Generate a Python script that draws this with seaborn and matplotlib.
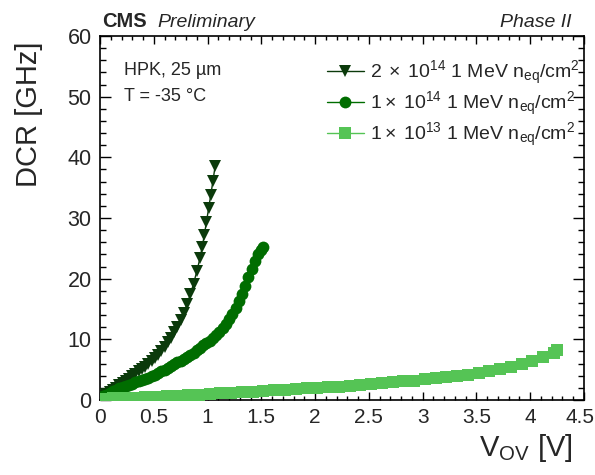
import numpy as np
import pandas as pd
import matplotlib
matplotlib.use("Agg")
import matplotlib.pyplot as plt
import matplotlib.transforms as mtransforms
from matplotlib.ticker import MultipleLocator
import seaborn as sns

# ---------------- data ----------------
v_2e14 = [0.00, 0.03, 0.06, 0.09, 0.12, 0.15, 0.18, 0.21, 0.24, 0.27, 0.30, 0.33,
          0.36, 0.39, 0.42, 0.45, 0.48, 0.51, 0.54, 0.57, 0.60, 0.63, 0.66, 0.69,
          0.72, 0.75, 0.78, 0.81, 0.84, 0.87, 0.90, 0.93, 0.95, 0.97, 0.99, 1.01,
          1.03, 1.05, 1.07]
dcr_2e14 = [0.4, 0.7, 1.0, 1.3, 1.6, 2.0, 2.4, 2.8, 3.1, 3.5, 3.9, 4.3,
            4.7, 5.1, 5.5, 5.9, 6.4, 6.9, 7.5, 8.1, 8.8, 9.5, 10.3, 11.2,
            12.1, 13.2, 14.4, 15.8, 17.4, 19.2, 21.2, 23.4, 25.2, 27.2, 29.4, 31.6,
            33.8, 36.1, 38.5]

v_1e14 = [0.00, 0.03, 0.06, 0.09, 0.12, 0.15, 0.18, 0.21, 0.24, 0.27, 0.30, 0.33,
          0.36, 0.39, 0.42, 0.45, 0.48, 0.51, 0.54, 0.57, 0.60, 0.63, 0.66, 0.69,
          0.72, 0.75, 0.78, 0.81, 0.84, 0.87, 0.90, 0.93, 0.96, 0.99, 1.02, 1.05,
          1.08, 1.11, 1.14, 1.17, 1.20, 1.23, 1.26, 1.29, 1.32, 1.35, 1.38, 1.41,
          1.44, 1.47, 1.50, 1.52]
dcr_1e14 = [0.3, 0.6, 0.9, 1.2, 1.5, 1.7, 1.9, 2.1, 2.3, 2.5, 2.7, 2.9,
            3.1, 3.3, 3.5, 3.7, 3.9, 4.1, 4.4, 4.7, 5.0, 5.3, 5.6, 5.9,
            6.2, 6.5, 6.8, 7.1, 7.4, 7.8, 8.2, 8.6, 9.0, 9.4, 9.8, 10.2,
            10.7, 11.2, 11.8, 12.5, 13.3, 14.2, 15.2, 16.3, 17.5, 18.8, 20.2, 21.6,
            22.9, 24.0, 24.8, 25.2]

v_1e13 = [0.02, 0.12, 0.22, 0.32, 0.42, 0.52, 0.62, 0.72, 0.82, 0.92, 1.02, 1.12,
          1.22, 1.32, 1.42, 1.52, 1.62, 1.72, 1.82, 1.92, 2.02, 2.12, 2.22, 2.32,
          2.42, 2.52, 2.62, 2.72, 2.82, 2.92, 3.02, 3.12, 3.22, 3.32, 3.42, 3.52,
          3.62, 3.72, 3.82, 3.92, 4.02, 4.12, 4.22, 4.25]
dcr_1e13 = [0.2, 0.25, 0.3, 0.4, 0.45, 0.5, 0.6, 0.7, 0.8, 0.9, 1.0, 1.1,
            1.2, 1.3, 1.4, 1.5, 1.6, 1.7, 1.8, 1.9, 2.0, 2.1, 2.2, 2.35,
            2.5, 2.6, 2.75, 2.9, 3.05, 3.2, 3.4, 3.6, 3.8, 4.0, 4.2, 4.5,
            4.8, 5.1, 5.5, 5.9, 6.5, 7.1, 7.8, 8.3]

labels = [r"$2\;\times\;10^{14}$ 1 MeV n$_{\rm eq}$/cm$^{2}$",
          r"$1\times\;10^{14}$ 1 MeV n$_{\rm eq}$/cm$^{2}$",
          r"$1\times\;10^{13}$ 1 MeV n$_{\rm eq}$/cm$^{2}$"]
x_tick_labels = ["0", "0.5", "1", "1.5", "2", "2.5", "3", "3.5", "4", "4.5"]
colors = ["#0b3a0b", "#006d00", "#55c455"]
markers = ["v", "o", "s"]
msizes = [9, 8.5, 8.5]

# ---------------- style ----------------
sns.set_theme(style="white")
plt.rcParams["font.family"] = ["Liberation Sans", "DejaVu Sans"]
plt.rcParams["mathtext.fontset"] = "custom"
plt.rcParams["mathtext.rm"] = "Liberation Sans"
plt.rcParams["mathtext.it"] = "Liberation Sans:italic"
plt.rcParams["mathtext.bf"] = "Liberation Sans:bold"

fig = plt.figure(figsize=(5.95, 4.75), dpi=100)
ax = fig.add_axes([100 / 595, 1 - 400 / 475, 484 / 595, 364 / 475])

series = [(v_2e14, dcr_2e14), (v_1e14, dcr_1e14), (v_1e13, dcr_1e13)]
for (vx, vy), lab, c, m, ms in zip(series, labels, colors, markers, msizes):
    df = pd.DataFrame({"V": vx, "DCR": vy})
    sns.lineplot(data=df, x="V", y="DCR", ax=ax, color=c, marker=m,
                 markersize=ms, markeredgewidth=0, linewidth=1.0,
                 label=lab, sort=False, estimator=None, zorder=3)

ax.set_xlim(0, 4.5)
ax.set_ylim(0, 60)
ax.xaxis.set_major_locator(MultipleLocator(0.5))
ax.xaxis.set_minor_locator(MultipleLocator(0.1))
ax.yaxis.set_major_locator(MultipleLocator(10))
ax.yaxis.set_minor_locator(MultipleLocator(2))
ax.set_xticks(np.arange(0, 4.51, 0.5))
ax.set_xticklabels(x_tick_labels)
ax.tick_params(axis="x", which="major", direction="in", length=5.5, width=1,
               top=True, bottom=True, labelsize=15, pad=6, color="black")
ax.tick_params(axis="x", which="minor", direction="in", length=2.8, width=1,
               top=True, bottom=True, color="black")
ax.tick_params(axis="y", which="major", direction="in", length=8, width=1,
               left=True, right=True, labelsize=15.5, pad=6, color="black")
ax.tick_params(axis="y", which="minor", direction="in", length=4, width=1,
               left=True, right=True, color="black")
for s in ax.spines.values():
    s.set_color("black")
    s.set_linewidth(1.2)
ax.grid(False)

# keep the last x tick label inside the canvas, as in the reference
last = ax.get_xticklabels()[-1]
last.set_transform(last.get_transform() +
                   mtransforms.ScaledTranslation(-0.045, 0, fig.dpi_scale_trans))

ax.set_xlabel(r"V$_{\rm OV}$ [V]", fontsize=21, loc="right")
ax.set_ylabel("DCR [GHz]", fontsize=21, loc="top")
ax.xaxis.set_label_coords(0.977, -0.088)
ax.yaxis.set_label_coords(-0.118, 0.984)

fig.text(102 / 595, 1 - 27 / 475, "CMS", fontsize=14.5, fontweight="bold",
         ha="left", va="baseline")
fig.text(157 / 595, 1 - 27 / 475, "Preliminary", fontsize=14, style="italic",
         ha="left", va="baseline")
fig.text(572 / 595, 1 - 27 / 475, "Phase II", fontsize=14, style="italic",
         ha="right", va="baseline")

ax.text(0.05, 0.905, "HPK, 25 µm", transform=ax.transAxes, fontsize=13,
        ha="left", va="center")
ax.text(0.05, 0.835, "T = -35 °C", transform=ax.transAxes, fontsize=13,
        ha="left", va="center")

leg = ax.legend(loc="upper right", bbox_to_anchor=(0.99, 0.937), frameon=False,
                fontsize=14, handlelength=1.9, handletextpad=0.3,
                labelspacing=0.15, borderaxespad=0.0, borderpad=0.0,
                numpoints=1)

fig.savefig("out.png", dpi=100)
